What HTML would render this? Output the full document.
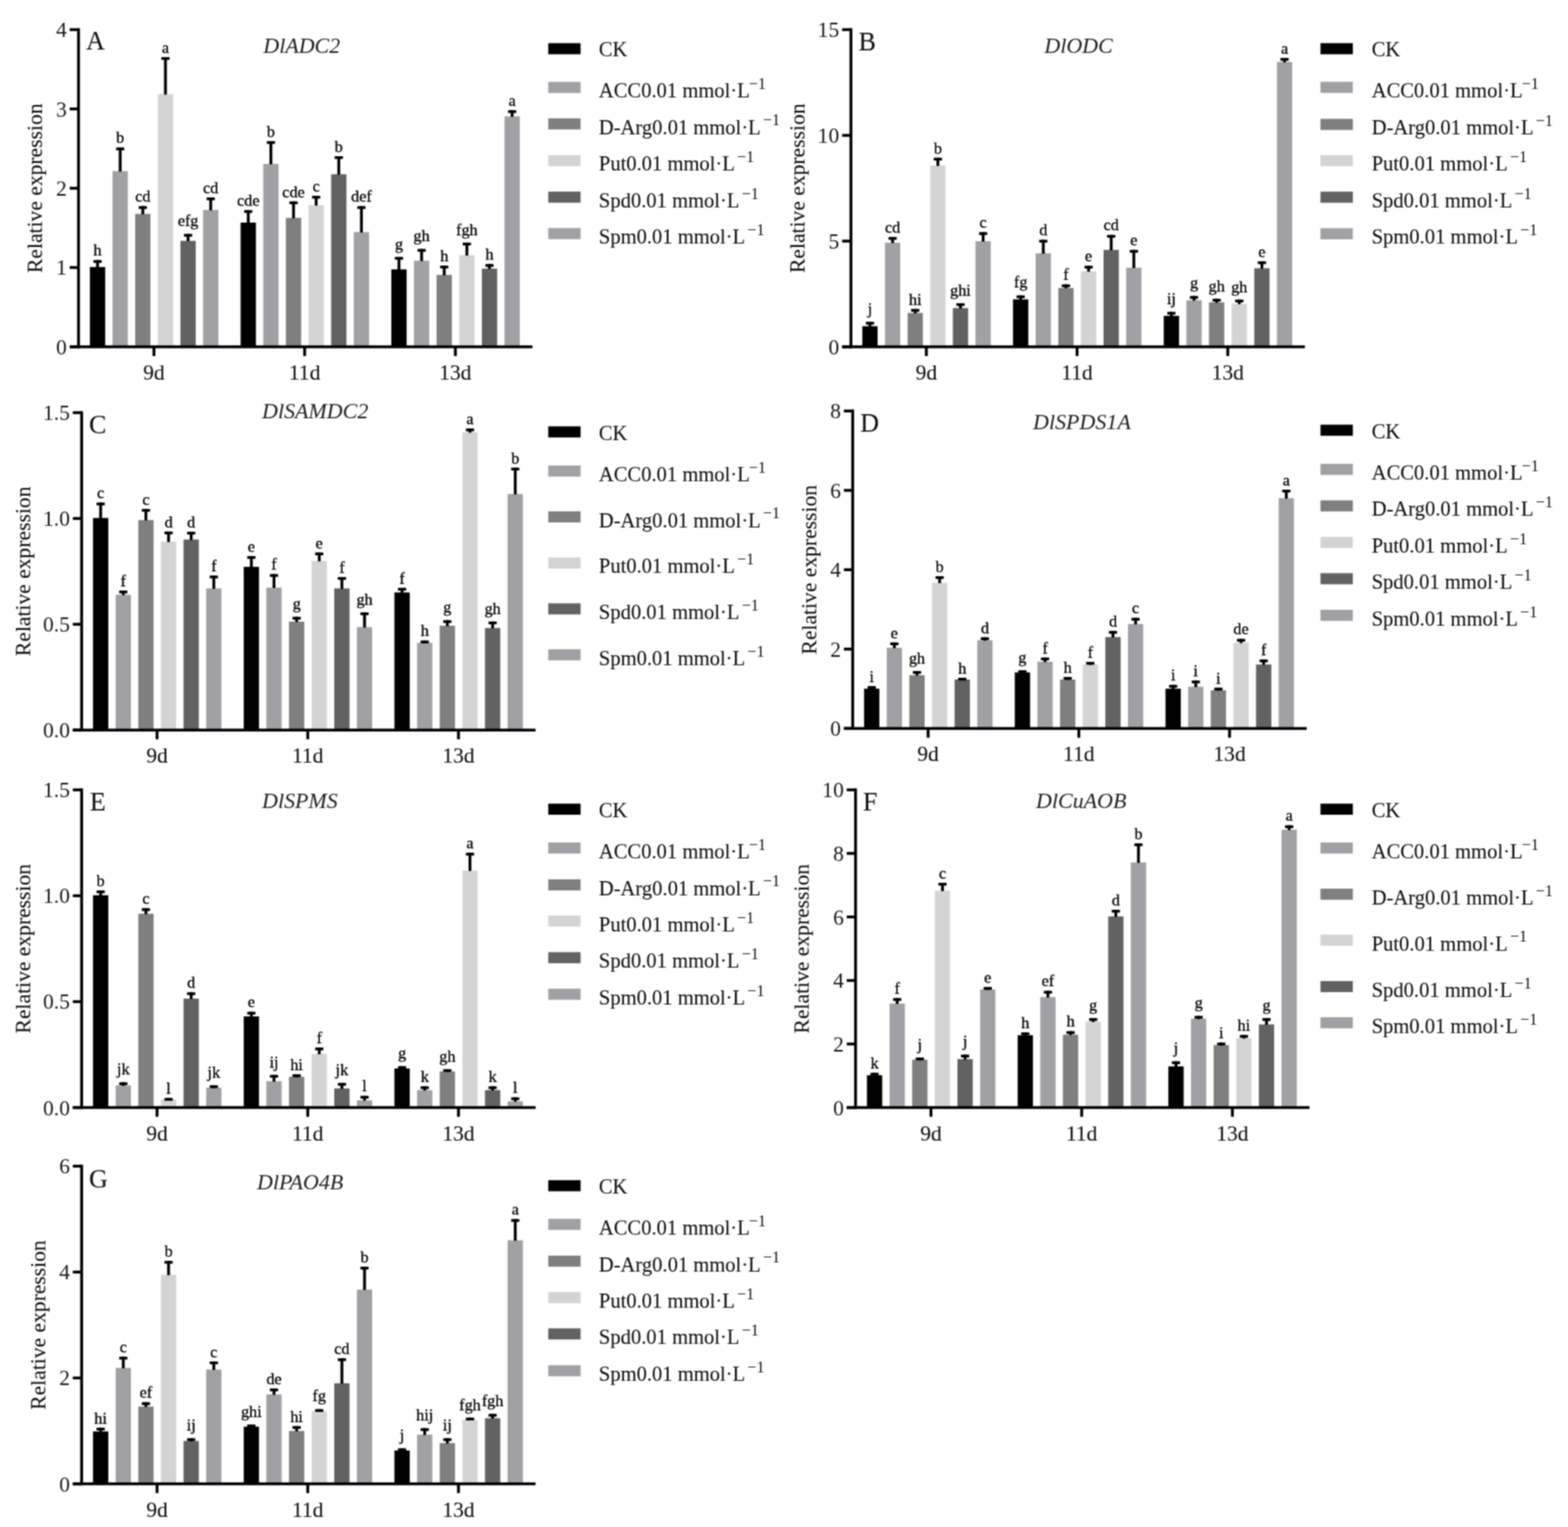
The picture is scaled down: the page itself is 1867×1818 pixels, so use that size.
<!DOCTYPE html>
<html><head><meta charset="utf-8"><title>Relative expression</title>
<style>
html,body{margin:0;padding:0;background:#fff;}
svg{display:block;}
text{font-family:"Liberation Serif", "Times New Roman", serif;fill:#111;stroke:#111;stroke-width:0.1px;}
.l{font-size:19.3px;text-anchor:middle;stroke-width:0.3px;fill:#000;stroke:#000;}
.yt{font-size:25.6px;text-anchor:end;stroke-width:0;fill:#1a1a1a;}
.xt{font-size:25.6px;text-anchor:middle;}
.yl{font-size:25.7px;text-anchor:middle;}
.lg{font-size:24.5px;}
.sp{font-size:19px;stroke-width:0;}
.ti{font-size:26.2px;font-style:italic;fill:#222;stroke-width:0;}
.pl{font-size:31px;}
</style></head>
<body>
<svg width="1867" height="1818" viewBox="0 0 1867 1818">
<defs><filter id="bl" x="0" y="0" width="1867" height="1818" filterUnits="userSpaceOnUse" color-interpolation-filters="sRGB"><feConvolveMatrix order="3" kernelMatrix="1 2 1 2 4 2 1 2 1" divisor="16" edgeMode="duplicate" preserveAlpha="true"/></filter></defs>
<rect width="1867" height="1818" fill="#fff"/>
<g filter="url(#bl)">
<rect width="1867" height="1818" fill="#fff"/>
<g><rect x="107.05" y="317.9" width="18.2" height="95" fill="#000000"/>
<rect x="114.45" y="309.65" width="3.4" height="8.75"/>
<rect x="111.25" y="309.65" width="9.8" height="3.3"/>
<text x="116.15" y="304.45" class="l">h</text>
<rect x="134" y="203.68" width="18.2" height="209.22" fill="#a1a0a5"/>
<rect x="141.4" y="175.6" width="3.4" height="28.58"/>
<rect x="138.2" y="175.6" width="9.8" height="3.3"/>
<text x="143.1" y="170.4" class="l">b</text>
<rect x="160.95" y="254.65" width="18.2" height="158.25" fill="#7f7f7f"/>
<rect x="168.35" y="245.46" width="3.4" height="9.7"/>
<rect x="165.15" y="245.46" width="9.8" height="3.3"/>
<text x="170.05" y="240.26" class="l">cd</text>
<rect x="187.9" y="112.11" width="18.2" height="300.79" fill="#d4d4d4"/>
<rect x="195.3" y="67.98" width="3.4" height="44.62"/>
<rect x="192.1" y="67.98" width="9.8" height="3.3"/>
<text x="197" y="62.78" class="l">a</text>
<rect x="214.85" y="286.75" width="18.2" height="126.15" fill="#626262"/>
<rect x="222.25" y="278.5" width="3.4" height="8.75"/>
<rect x="219.05" y="278.5" width="9.8" height="3.3"/>
<text x="223.95" y="269.3" class="l">efg</text>
<rect x="241.8" y="249.93" width="18.2" height="162.97" fill="#a1a0a5"/>
<rect x="249.2" y="235.07" width="3.4" height="15.36"/>
<rect x="246" y="235.07" width="9.8" height="3.3"/>
<text x="250.9" y="229.87" class="l">cd</text>
<rect x="286.5" y="265.04" width="18.2" height="147.86" fill="#000000"/>
<rect x="293.9" y="250.18" width="3.4" height="15.36"/>
<rect x="290.7" y="250.18" width="9.8" height="3.3"/>
<text x="295.6" y="244.98" class="l">cde</text>
<rect x="313.45" y="195.18" width="18.2" height="217.72" fill="#a1a0a5"/>
<rect x="320.85" y="168.05" width="3.4" height="27.63"/>
<rect x="317.65" y="168.05" width="9.8" height="3.3"/>
<text x="322.55" y="162.85" class="l">b</text>
<rect x="340.4" y="259.37" width="18.2" height="153.53" fill="#7f7f7f"/>
<rect x="347.8" y="239.79" width="3.4" height="20.08"/>
<rect x="344.6" y="239.79" width="9.8" height="3.3"/>
<text x="349.5" y="234.59" class="l">cde</text>
<rect x="367.35" y="244.27" width="18.2" height="168.63" fill="#d4d4d4"/>
<rect x="374.75" y="233.18" width="3.4" height="11.58"/>
<rect x="371.55" y="233.18" width="9.8" height="3.3"/>
<text x="376.45" y="227.98" class="l">c</text>
<rect x="394.3" y="207.45" width="18.2" height="205.45" fill="#626262"/>
<rect x="401.7" y="185.98" width="3.4" height="21.97"/>
<rect x="398.5" y="185.98" width="9.8" height="3.3"/>
<text x="403.4" y="180.78" class="l">b</text>
<rect x="421.25" y="276.36" width="18.2" height="136.54" fill="#a1a0a5"/>
<rect x="428.65" y="245.46" width="3.4" height="31.41"/>
<rect x="425.45" y="245.46" width="9.8" height="3.3"/>
<text x="430.35" y="240.26" class="l">def</text>
<rect x="465.95" y="320.73" width="18.2" height="92.17" fill="#000000"/>
<rect x="473.35" y="305.87" width="3.4" height="15.36"/>
<rect x="470.15" y="305.87" width="9.8" height="3.3"/>
<text x="475.05" y="296.67" class="l">g</text>
<rect x="492.9" y="310.35" width="18.2" height="102.55" fill="#a1a0a5"/>
<rect x="500.3" y="296.43" width="3.4" height="14.42"/>
<rect x="497.1" y="296.43" width="9.8" height="3.3"/>
<text x="502" y="287.23" class="l">gh</text>
<rect x="519.85" y="327.34" width="18.2" height="85.56" fill="#7f7f7f"/>
<rect x="527.25" y="316.26" width="3.4" height="11.58"/>
<rect x="524.05" y="316.26" width="9.8" height="3.3"/>
<text x="528.95" y="311.06" class="l">h</text>
<rect x="546.8" y="303.74" width="18.2" height="109.16" fill="#d4d4d4"/>
<rect x="554.2" y="288.88" width="3.4" height="15.36"/>
<rect x="551" y="288.88" width="9.8" height="3.3"/>
<text x="555.9" y="279.68" class="l">fgh</text>
<rect x="573.75" y="319.79" width="18.2" height="93.11" fill="#626262"/>
<rect x="581.15" y="314.37" width="3.4" height="5.92"/>
<rect x="577.95" y="314.37" width="9.8" height="3.3"/>
<text x="582.85" y="309.17" class="l">h</text>
<rect x="600.7" y="138.54" width="18.2" height="274.36" fill="#a1a0a5"/>
<rect x="608.1" y="131.23" width="3.4" height="7.81"/>
<rect x="604.9" y="131.23" width="9.8" height="3.3"/>
<text x="609.8" y="126.03" class="l">a</text>
<rect x="83" y="411.2" width="551" height="3.4"/>
<rect x="91.8" y="33.6" width="3.4" height="381"/>
<rect x="83" y="411.2" width="10.5" height="3.4"/>
<text x="79.5" y="421.8" class="yt">0</text>
<rect x="83" y="316.8" width="10.5" height="3.4"/>
<text x="79.5" y="327.4" class="yt">1</text>
<rect x="83" y="222.4" width="10.5" height="3.4"/>
<text x="79.5" y="233" class="yt">2</text>
<rect x="83" y="128" width="10.5" height="3.4"/>
<text x="79.5" y="138.6" class="yt">3</text>
<rect x="83" y="33.6" width="10.5" height="3.4"/>
<text x="79.5" y="44.2" class="yt">4</text>
<rect x="181.6" y="412.9" width="3.4" height="11"/>
<text x="183.3" y="451.9" class="xt">9d</text>
<rect x="361.05" y="412.9" width="3.4" height="11"/>
<text x="362.75" y="451.9" class="xt">11d</text>
<rect x="540.5" y="412.9" width="3.4" height="11"/>
<text x="542.2" y="451.9" class="xt">13d</text>
<text x="102.5" y="59.2" class="pl">A</text>
<text x="313.5" y="62.5" class="ti">DlADC2</text>
<text transform="translate(50 224.1) rotate(-90)" class="yl">Relative expression</text>
<rect x="652.8" y="51.4" width="38.5" height="13.2" fill="#000000"/>
<text x="713" y="67.3" class="lg">CK</text>
<rect x="652.8" y="97.5" width="38.5" height="13.2" fill="#a1a0a5"/>
<text x="713" y="116.2" class="lg">ACC0.01 mmol·L<tspan dx="-0.9" dy="-10.2" class="sp">−1</tspan></text>
<rect x="652.8" y="140.9" width="38.5" height="13.2" fill="#7f7f7f"/>
<text x="713" y="159.6" class="lg">D-Arg0.01 mmol·L<tspan dx="2.8" dy="-10.2" class="sp">−1</tspan></text>
<rect x="652.8" y="184.6" width="38.5" height="13.2" fill="#d4d4d4"/>
<text x="713" y="203.3" class="lg">Put0.01 mmol·L<tspan dx="2.8" dy="-10.2" class="sp">−1</tspan></text>
<rect x="652.8" y="228.1" width="38.5" height="13.2" fill="#626262"/>
<text x="713" y="246.8" class="lg">Spd0.01 mmol·L<tspan dx="2.8" dy="-10.2" class="sp">−1</tspan></text>
<rect x="652.8" y="271.5" width="38.5" height="13.2" fill="#a1a0a5"/>
<text x="713" y="290.2" class="lg">Spm0.01 mmol·L<tspan dx="2.8" dy="-10.2" class="sp">−1</tspan></text></g>
<g><rect x="1026.75" y="388.39" width="18.2" height="24.51" fill="#000000"/>
<rect x="1034.15" y="383.15" width="3.4" height="5.73"/>
<rect x="1030.95" y="383.15" width="9.8" height="3.3"/>
<text x="1035.85" y="373.95" class="l">j</text>
<rect x="1053.7" y="288.95" width="18.2" height="123.95" fill="#a1a0a5"/>
<rect x="1061.1" y="282.21" width="3.4" height="7.24"/>
<rect x="1057.9" y="282.21" width="9.8" height="3.3"/>
<text x="1062.8" y="277.01" class="l">cd</text>
<rect x="1080.65" y="372.53" width="18.2" height="40.37" fill="#7f7f7f"/>
<rect x="1088.05" y="367.8" width="3.4" height="5.23"/>
<rect x="1084.85" y="367.8" width="9.8" height="3.3"/>
<text x="1089.75" y="362.6" class="l">hi</text>
<rect x="1107.6" y="197.07" width="18.2" height="215.83" fill="#d4d4d4"/>
<rect x="1115" y="187.81" width="3.4" height="9.76"/>
<rect x="1111.8" y="187.81" width="9.8" height="3.3"/>
<text x="1116.7" y="182.61" class="l">b</text>
<rect x="1134.55" y="366.74" width="18.2" height="46.16" fill="#626262"/>
<rect x="1141.95" y="361" width="3.4" height="6.23"/>
<rect x="1138.75" y="361" width="9.8" height="3.3"/>
<text x="1143.65" y="351.8" class="l">ghi</text>
<rect x="1161.5" y="287.19" width="18.2" height="125.71" fill="#a1a0a5"/>
<rect x="1168.9" y="276.42" width="3.4" height="11.27"/>
<rect x="1165.7" y="276.42" width="9.8" height="3.3"/>
<text x="1170.6" y="271.22" class="l">c</text>
<rect x="1206.2" y="356.42" width="18.2" height="56.48" fill="#000000"/>
<rect x="1213.6" y="351.69" width="3.4" height="5.23"/>
<rect x="1210.4" y="351.69" width="9.8" height="3.3"/>
<text x="1215.3" y="342.49" class="l">fg</text>
<rect x="1233.15" y="301.54" width="18.2" height="111.36" fill="#a1a0a5"/>
<rect x="1240.55" y="285.48" width="3.4" height="16.56"/>
<rect x="1237.35" y="285.48" width="9.8" height="3.3"/>
<text x="1242.25" y="280.28" class="l">d</text>
<rect x="1260.1" y="342.82" width="18.2" height="70.08" fill="#7f7f7f"/>
<rect x="1267.5" y="338.6" width="3.4" height="4.72"/>
<rect x="1264.3" y="338.6" width="9.8" height="3.3"/>
<text x="1269.2" y="333.4" class="l">f</text>
<rect x="1287.05" y="322.93" width="18.2" height="89.97" fill="#d4d4d4"/>
<rect x="1294.45" y="316.44" width="3.4" height="6.99"/>
<rect x="1291.25" y="316.44" width="9.8" height="3.3"/>
<text x="1296.15" y="311.24" class="l">e</text>
<rect x="1314" y="297.51" width="18.2" height="115.39" fill="#626262"/>
<rect x="1321.4" y="279.69" width="3.4" height="18.32"/>
<rect x="1318.2" y="279.69" width="9.8" height="3.3"/>
<text x="1323.1" y="274.49" class="l">cd</text>
<rect x="1340.95" y="318.66" width="18.2" height="94.24" fill="#a1a0a5"/>
<rect x="1348.35" y="297.56" width="3.4" height="21.59"/>
<rect x="1345.15" y="297.56" width="9.8" height="3.3"/>
<text x="1350.05" y="292.36" class="l">e</text>
<rect x="1385.65" y="376.05" width="18.2" height="36.85" fill="#000000"/>
<rect x="1393.05" y="371.32" width="3.4" height="5.23"/>
<rect x="1389.85" y="371.32" width="9.8" height="3.3"/>
<text x="1394.75" y="362.12" class="l">ij</text>
<rect x="1412.6" y="357.42" width="18.2" height="55.48" fill="#a1a0a5"/>
<rect x="1420" y="352.44" width="3.4" height="5.48"/>
<rect x="1416.8" y="352.44" width="9.8" height="3.3"/>
<text x="1421.7" y="343.24" class="l">g</text>
<rect x="1439.55" y="359.94" width="18.2" height="52.96" fill="#7f7f7f"/>
<rect x="1446.95" y="355.72" width="3.4" height="4.72"/>
<rect x="1443.75" y="355.72" width="9.8" height="3.3"/>
<text x="1448.65" y="346.52" class="l">gh</text>
<rect x="1466.5" y="361.7" width="18.2" height="51.2" fill="#d4d4d4"/>
<rect x="1473.9" y="356.72" width="3.4" height="5.48"/>
<rect x="1470.7" y="356.72" width="9.8" height="3.3"/>
<text x="1475.6" y="347.52" class="l">gh</text>
<rect x="1493.45" y="319.41" width="18.2" height="93.49" fill="#626262"/>
<rect x="1500.85" y="311.16" width="3.4" height="8.75"/>
<rect x="1497.65" y="311.16" width="9.8" height="3.3"/>
<text x="1502.55" y="305.96" class="l">e</text>
<rect x="1520.4" y="73.72" width="18.2" height="339.18" fill="#a1a0a5"/>
<rect x="1527.8" y="68.99" width="3.4" height="5.23"/>
<rect x="1524.6" y="68.99" width="9.8" height="3.3"/>
<text x="1529.5" y="63.79" class="l">a</text>
<rect x="1002.7" y="411.2" width="551" height="3.4"/>
<rect x="1011.5" y="33.6" width="3.4" height="381"/>
<rect x="1002.7" y="411.2" width="10.5" height="3.4"/>
<text x="999.2" y="421.8" class="yt">0</text>
<rect x="1002.7" y="285.33" width="10.5" height="3.4"/>
<text x="999.2" y="295.93" class="yt">5</text>
<rect x="1002.7" y="159.47" width="10.5" height="3.4"/>
<text x="999.2" y="170.07" class="yt">10</text>
<rect x="1002.7" y="33.6" width="10.5" height="3.4"/>
<text x="999.2" y="44.2" class="yt">15</text>
<rect x="1101.3" y="412.9" width="3.4" height="11"/>
<text x="1103" y="451.9" class="xt">9d</text>
<rect x="1280.75" y="412.9" width="3.4" height="11"/>
<text x="1282.45" y="451.9" class="xt">11d</text>
<rect x="1460.2" y="412.9" width="3.4" height="11"/>
<text x="1461.9" y="451.9" class="xt">13d</text>
<text x="1022.3" y="59.6" class="pl">B</text>
<text x="1243.5" y="62.5" class="ti">DlODC</text>
<text transform="translate(957.5 224.1) rotate(-90)" class="yl">Relative expression</text>
<rect x="1572.3" y="51.4" width="38.5" height="13.2" fill="#000000"/>
<text x="1633.2" y="67.3" class="lg">CK</text>
<rect x="1572.3" y="97.4" width="38.5" height="13.2" fill="#a1a0a5"/>
<text x="1633.2" y="116.1" class="lg">ACC0.01 mmol·L<tspan dx="-0.9" dy="-10.2" class="sp">−1</tspan></text>
<rect x="1572.3" y="141.5" width="38.5" height="13.2" fill="#7f7f7f"/>
<text x="1633.2" y="160.2" class="lg">D-Arg0.01 mmol·L<tspan dx="2.8" dy="-10.2" class="sp">−1</tspan></text>
<rect x="1572.3" y="184.6" width="38.5" height="13.2" fill="#d4d4d4"/>
<text x="1633.2" y="203.3" class="lg">Put0.01 mmol·L<tspan dx="2.8" dy="-10.2" class="sp">−1</tspan></text>
<rect x="1572.3" y="228.2" width="38.5" height="13.2" fill="#626262"/>
<text x="1633.2" y="246.9" class="lg">Spd0.01 mmol·L<tspan dx="2.8" dy="-10.2" class="sp">−1</tspan></text>
<rect x="1572.3" y="271.7" width="38.5" height="13.2" fill="#a1a0a5"/>
<text x="1633.2" y="290.4" class="lg">Spm0.01 mmol·L<tspan dx="2.8" dy="-10.2" class="sp">−1</tspan></text></g>
<g><rect x="110.75" y="616.67" width="18.2" height="252.53" fill="#000000"/>
<rect x="118.15" y="598.33" width="3.4" height="18.84"/>
<rect x="114.95" y="598.33" width="9.8" height="3.3"/>
<text x="119.85" y="593.13" class="l">c</text>
<rect x="137.7" y="708.12" width="18.2" height="161.08" fill="#a1a0a5"/>
<rect x="145.1" y="703.14" width="3.4" height="5.48"/>
<rect x="141.9" y="703.14" width="9.8" height="3.3"/>
<text x="146.8" y="697.94" class="l">f</text>
<rect x="164.65" y="619.19" width="18.2" height="250.01" fill="#7f7f7f"/>
<rect x="172.05" y="605.89" width="3.4" height="13.8"/>
<rect x="168.85" y="605.89" width="9.8" height="3.3"/>
<text x="173.75" y="600.69" class="l">c</text>
<rect x="191.6" y="644.88" width="18.2" height="224.32" fill="#d4d4d4"/>
<rect x="199" y="632.85" width="3.4" height="12.54"/>
<rect x="195.8" y="632.85" width="9.8" height="3.3"/>
<text x="200.7" y="627.65" class="l">d</text>
<rect x="218.55" y="642.36" width="18.2" height="226.84" fill="#626262"/>
<rect x="225.95" y="633.1" width="3.4" height="9.77"/>
<rect x="222.75" y="633.1" width="9.8" height="3.3"/>
<text x="227.65" y="627.9" class="l">d</text>
<rect x="245.5" y="700.56" width="18.2" height="168.64" fill="#a1a0a5"/>
<rect x="252.9" y="685.25" width="3.4" height="15.81"/>
<rect x="249.7" y="685.25" width="9.8" height="3.3"/>
<text x="254.6" y="680.05" class="l">f</text>
<rect x="290.2" y="674.86" width="18.2" height="194.34" fill="#000000"/>
<rect x="297.6" y="662.07" width="3.4" height="13.29"/>
<rect x="294.4" y="662.07" width="9.8" height="3.3"/>
<text x="299.3" y="656.87" class="l">e</text>
<rect x="317.15" y="699.55" width="18.2" height="169.65" fill="#a1a0a5"/>
<rect x="324.55" y="683.48" width="3.4" height="16.57"/>
<rect x="321.35" y="683.48" width="9.8" height="3.3"/>
<text x="326.25" y="678.28" class="l">f</text>
<rect x="344.1" y="740.11" width="18.2" height="129.09" fill="#7f7f7f"/>
<rect x="351.5" y="734.38" width="3.4" height="6.24"/>
<rect x="348.3" y="734.38" width="9.8" height="3.3"/>
<text x="353.2" y="725.18" class="l">g</text>
<rect x="371.05" y="667.81" width="18.2" height="201.39" fill="#d4d4d4"/>
<rect x="378.45" y="657.79" width="3.4" height="10.52"/>
<rect x="375.25" y="657.79" width="9.8" height="3.3"/>
<text x="380.15" y="652.59" class="l">e</text>
<rect x="398" y="700.56" width="18.2" height="168.64" fill="#626262"/>
<rect x="405.4" y="687.01" width="3.4" height="14.05"/>
<rect x="402.2" y="687.01" width="9.8" height="3.3"/>
<text x="407.1" y="681.81" class="l">f</text>
<rect x="424.95" y="746.66" width="18.2" height="122.54" fill="#a1a0a5"/>
<rect x="432.35" y="729.08" width="3.4" height="18.08"/>
<rect x="429.15" y="729.08" width="9.8" height="3.3"/>
<text x="434.05" y="719.88" class="l">gh</text>
<rect x="469.65" y="705.35" width="18.2" height="163.85" fill="#000000"/>
<rect x="477.05" y="699.86" width="3.4" height="5.99"/>
<rect x="473.85" y="699.86" width="9.8" height="3.3"/>
<text x="478.75" y="694.66" class="l">f</text>
<rect x="496.6" y="765.31" width="18.2" height="103.89" fill="#a1a0a5"/>
<rect x="504" y="762.59" width="3.4" height="3.22"/>
<rect x="500.8" y="762.59" width="9.8" height="3.3"/>
<text x="505.7" y="757.39" class="l">h</text>
<rect x="523.55" y="744.9" width="18.2" height="124.3" fill="#7f7f7f"/>
<rect x="530.95" y="738.41" width="3.4" height="6.99"/>
<rect x="527.75" y="738.41" width="9.8" height="3.3"/>
<text x="532.65" y="729.21" class="l">g</text>
<rect x="550.5" y="514.63" width="18.2" height="354.57" fill="#d4d4d4"/>
<rect x="557.9" y="510.15" width="3.4" height="4.98"/>
<rect x="554.7" y="510.15" width="9.8" height="3.3"/>
<text x="559.6" y="504.95" class="l">a</text>
<rect x="577.45" y="747.67" width="18.2" height="121.53" fill="#626262"/>
<rect x="584.85" y="739.92" width="3.4" height="8.25"/>
<rect x="581.65" y="739.92" width="9.8" height="3.3"/>
<text x="586.55" y="730.72" class="l">gh</text>
<rect x="604.4" y="588.2" width="18.2" height="281" fill="#a1a0a5"/>
<rect x="611.8" y="556.76" width="3.4" height="31.94"/>
<rect x="608.6" y="556.76" width="9.8" height="3.3"/>
<text x="613.5" y="551.56" class="l">b</text>
<rect x="86.7" y="867.5" width="551" height="3.4"/>
<rect x="95.5" y="489.6" width="3.4" height="381.3"/>
<rect x="86.7" y="867.5" width="10.5" height="3.4"/>
<text x="83.2" y="878.1" class="yt">0.0</text>
<rect x="86.7" y="741.53" width="10.5" height="3.4"/>
<text x="83.2" y="752.13" class="yt">0.5</text>
<rect x="86.7" y="615.57" width="10.5" height="3.4"/>
<text x="83.2" y="626.17" class="yt">1.0</text>
<rect x="86.7" y="489.6" width="10.5" height="3.4"/>
<text x="83.2" y="500.2" class="yt">1.5</text>
<rect x="185.3" y="869.2" width="3.4" height="11"/>
<text x="187" y="908.2" class="xt">9d</text>
<rect x="364.75" y="869.2" width="3.4" height="11"/>
<text x="366.45" y="908.2" class="xt">11d</text>
<rect x="544.2" y="869.2" width="3.4" height="11"/>
<text x="545.9" y="908.2" class="xt">13d</text>
<text x="106" y="515.5" class="pl">C</text>
<text x="312" y="497.5" class="ti">DlSAMDC2</text>
<text transform="translate(35.5 680.2) rotate(-90)" class="yl">Relative expression</text>
<rect x="652.8" y="507.6" width="38.5" height="13.2" fill="#000000"/>
<text x="713" y="523.5" class="lg">CK</text>
<rect x="652.8" y="554.2" width="38.5" height="13.2" fill="#a1a0a5"/>
<text x="713" y="572.9" class="lg">ACC0.01 mmol·L<tspan dx="-0.9" dy="-10.2" class="sp">−1</tspan></text>
<rect x="652.8" y="608.8" width="38.5" height="13.2" fill="#7f7f7f"/>
<text x="713" y="627.5" class="lg">D-Arg0.01 mmol·L<tspan dx="2.8" dy="-10.2" class="sp">−1</tspan></text>
<rect x="652.8" y="663.7" width="38.5" height="13.2" fill="#d4d4d4"/>
<text x="713" y="682.4" class="lg">Put0.01 mmol·L<tspan dx="2.8" dy="-10.2" class="sp">−1</tspan></text>
<rect x="652.8" y="718.3" width="38.5" height="13.2" fill="#626262"/>
<text x="713" y="737" class="lg">Spd0.01 mmol·L<tspan dx="2.8" dy="-10.2" class="sp">−1</tspan></text>
<rect x="652.8" y="773" width="38.5" height="13.2" fill="#a1a0a5"/>
<text x="713" y="791.7" class="lg">Spm0.01 mmol·L<tspan dx="2.8" dy="-10.2" class="sp">−1</tspan></text></g>
<g><rect x="1028.85" y="819.92" width="18.2" height="47.38" fill="#000000"/>
<rect x="1036.25" y="816.86" width="3.4" height="3.56"/>
<rect x="1033.05" y="816.86" width="9.8" height="3.3"/>
<text x="1037.95" y="811.66" class="l">i</text>
<rect x="1055.8" y="771.25" width="18.2" height="96.04" fill="#a1a0a5"/>
<rect x="1063.2" y="764.88" width="3.4" height="6.87"/>
<rect x="1060" y="764.88" width="9.8" height="3.3"/>
<text x="1064.9" y="759.68" class="l">e</text>
<rect x="1082.75" y="803.86" width="18.2" height="63.44" fill="#7f7f7f"/>
<rect x="1090.15" y="798.9" width="3.4" height="5.45"/>
<rect x="1086.95" y="798.9" width="9.8" height="3.3"/>
<text x="1091.85" y="789.7" class="l">gh</text>
<rect x="1109.7" y="693.76" width="18.2" height="173.53" fill="#d4d4d4"/>
<rect x="1117.1" y="685.98" width="3.4" height="8.29"/>
<rect x="1113.9" y="685.98" width="9.8" height="3.3"/>
<text x="1118.8" y="680.78" class="l">b</text>
<rect x="1136.65" y="809.05" width="18.2" height="58.25" fill="#626262"/>
<rect x="1144.05" y="806.94" width="3.4" height="2.62"/>
<rect x="1140.85" y="806.94" width="9.8" height="3.3"/>
<text x="1145.75" y="801.74" class="l">h</text>
<rect x="1163.6" y="762.28" width="18.2" height="105.02" fill="#a1a0a5"/>
<rect x="1171" y="758.74" width="3.4" height="4.03"/>
<rect x="1167.8" y="758.74" width="9.8" height="3.3"/>
<text x="1172.7" y="753.54" class="l">d</text>
<rect x="1208.3" y="800.55" width="18.2" height="66.75" fill="#000000"/>
<rect x="1215.7" y="797.96" width="3.4" height="3.09"/>
<rect x="1212.5" y="797.96" width="9.8" height="3.3"/>
<text x="1217.4" y="788.76" class="l">g</text>
<rect x="1235.25" y="787.79" width="18.2" height="79.51" fill="#a1a0a5"/>
<rect x="1242.65" y="782.84" width="3.4" height="5.45"/>
<rect x="1239.45" y="782.84" width="9.8" height="3.3"/>
<text x="1244.35" y="777.64" class="l">f</text>
<rect x="1262.2" y="809.05" width="18.2" height="58.25" fill="#7f7f7f"/>
<rect x="1269.6" y="805.99" width="3.4" height="3.56"/>
<rect x="1266.4" y="805.99" width="9.8" height="3.3"/>
<text x="1271.3" y="800.79" class="l">h</text>
<rect x="1289.15" y="791.1" width="18.2" height="76.2" fill="#d4d4d4"/>
<rect x="1296.55" y="788.04" width="3.4" height="3.56"/>
<rect x="1293.35" y="788.04" width="9.8" height="3.3"/>
<text x="1298.25" y="782.84" class="l">f</text>
<rect x="1316.1" y="758.5" width="18.2" height="108.8" fill="#626262"/>
<rect x="1323.5" y="751.18" width="3.4" height="7.81"/>
<rect x="1320.3" y="751.18" width="9.8" height="3.3"/>
<text x="1325.2" y="745.98" class="l">d</text>
<rect x="1343.05" y="742.9" width="18.2" height="124.39" fill="#a1a0a5"/>
<rect x="1350.45" y="735.59" width="3.4" height="7.81"/>
<rect x="1347.25" y="735.59" width="9.8" height="3.3"/>
<text x="1352.15" y="730.39" class="l">c</text>
<rect x="1387.75" y="819.92" width="18.2" height="47.38" fill="#000000"/>
<rect x="1395.15" y="815.44" width="3.4" height="4.98"/>
<rect x="1391.95" y="815.44" width="9.8" height="3.3"/>
<text x="1396.85" y="810.24" class="l">i</text>
<rect x="1414.7" y="817.56" width="18.2" height="49.74" fill="#a1a0a5"/>
<rect x="1422.1" y="810.25" width="3.4" height="7.81"/>
<rect x="1418.9" y="810.25" width="9.8" height="3.3"/>
<text x="1423.8" y="805.04" class="l">i</text>
<rect x="1441.65" y="821.81" width="18.2" height="45.49" fill="#7f7f7f"/>
<rect x="1449.05" y="818.75" width="3.4" height="3.56"/>
<rect x="1445.85" y="818.75" width="9.8" height="3.3"/>
<text x="1450.75" y="813.55" class="l">i</text>
<rect x="1468.6" y="765.11" width="18.2" height="102.19" fill="#d4d4d4"/>
<rect x="1476" y="760.63" width="3.4" height="4.98"/>
<rect x="1472.8" y="760.63" width="9.8" height="3.3"/>
<text x="1477.7" y="755.43" class="l">de</text>
<rect x="1495.55" y="791.1" width="18.2" height="76.2" fill="#626262"/>
<rect x="1502.95" y="785.2" width="3.4" height="6.4"/>
<rect x="1499.75" y="785.2" width="9.8" height="3.3"/>
<text x="1504.65" y="780" class="l">f</text>
<rect x="1522.5" y="593.12" width="18.2" height="274.18" fill="#a1a0a5"/>
<rect x="1529.9" y="582.97" width="3.4" height="10.65"/>
<rect x="1526.7" y="582.97" width="9.8" height="3.3"/>
<text x="1531.6" y="577.77" class="l">a</text>
<rect x="1004.8" y="865.6" width="551" height="3.4"/>
<rect x="1013.6" y="487.6" width="3.4" height="381.4"/>
<rect x="1004.8" y="865.6" width="10.5" height="3.4"/>
<text x="1001.3" y="876.2" class="yt">0</text>
<rect x="1004.8" y="771.1" width="10.5" height="3.4"/>
<text x="1001.3" y="781.7" class="yt">2</text>
<rect x="1004.8" y="676.6" width="10.5" height="3.4"/>
<text x="1001.3" y="687.2" class="yt">4</text>
<rect x="1004.8" y="582.1" width="10.5" height="3.4"/>
<text x="1001.3" y="592.7" class="yt">6</text>
<rect x="1004.8" y="487.6" width="10.5" height="3.4"/>
<text x="1001.3" y="498.2" class="yt">8</text>
<rect x="1103.4" y="867.3" width="3.4" height="11"/>
<text x="1105.1" y="906.3" class="xt">9d</text>
<rect x="1282.85" y="867.3" width="3.4" height="11"/>
<text x="1284.55" y="906.3" class="xt">11d</text>
<rect x="1462.3" y="867.3" width="3.4" height="11"/>
<text x="1464" y="906.3" class="xt">13d</text>
<text x="1024.3" y="514" class="pl">D</text>
<text x="1230" y="511.2" class="ti">DlSPDS1A</text>
<text transform="translate(971.5 678.3) rotate(-90)" class="yl">Relative expression</text>
<rect x="1572.3" y="505.6" width="38.5" height="13.2" fill="#000000"/>
<text x="1633.2" y="521.5" class="lg">CK</text>
<rect x="1572.3" y="552.2" width="38.5" height="13.2" fill="#a1a0a5"/>
<text x="1633.2" y="570.9" class="lg">ACC0.01 mmol·L<tspan dx="-0.9" dy="-10.2" class="sp">−1</tspan></text>
<rect x="1572.3" y="595.7" width="38.5" height="13.2" fill="#7f7f7f"/>
<text x="1633.2" y="614.4" class="lg">D-Arg0.01 mmol·L<tspan dx="2.8" dy="-10.2" class="sp">−1</tspan></text>
<rect x="1572.3" y="639.3" width="38.5" height="13.2" fill="#d4d4d4"/>
<text x="1633.2" y="658" class="lg">Put0.01 mmol·L<tspan dx="2.8" dy="-10.2" class="sp">−1</tspan></text>
<rect x="1572.3" y="682.4" width="38.5" height="13.2" fill="#626262"/>
<text x="1633.2" y="701.1" class="lg">Spd0.01 mmol·L<tspan dx="2.8" dy="-10.2" class="sp">−1</tspan></text>
<rect x="1572.3" y="726" width="38.5" height="13.2" fill="#a1a0a5"/>
<text x="1633.2" y="744.7" class="lg">Spm0.01 mmol·L<tspan dx="2.8" dy="-10.2" class="sp">−1</tspan></text></g>
<g><rect x="110.75" y="1065.87" width="18.2" height="252.73" fill="#000000"/>
<rect x="118.15" y="1060.12" width="3.4" height="6.24"/>
<rect x="114.95" y="1060.12" width="9.8" height="3.3"/>
<text x="119.85" y="1054.92" class="l">b</text>
<rect x="137.7" y="1292.28" width="18.2" height="26.32" fill="#a1a0a5"/>
<rect x="145.1" y="1288.56" width="3.4" height="4.23"/>
<rect x="141.9" y="1288.56" width="9.8" height="3.3"/>
<text x="146.8" y="1279.36" class="l">jk</text>
<rect x="164.65" y="1087.8" width="18.2" height="230.8" fill="#7f7f7f"/>
<rect x="172.05" y="1081.3" width="3.4" height="7"/>
<rect x="168.85" y="1081.3" width="9.8" height="3.3"/>
<text x="173.75" y="1076.1" class="l">c</text>
<rect x="191.6" y="1308.92" width="18.2" height="9.68" fill="#d4d4d4"/>
<rect x="199" y="1307.21" width="3.4" height="2.21"/>
<rect x="195.8" y="1307.21" width="9.8" height="3.3"/>
<text x="200.7" y="1302.01" class="l">l</text>
<rect x="218.55" y="1188.91" width="18.2" height="129.69" fill="#626262"/>
<rect x="225.95" y="1181.4" width="3.4" height="8.01"/>
<rect x="222.75" y="1181.4" width="9.8" height="3.3"/>
<text x="227.65" y="1176.2" class="l">d</text>
<rect x="245.5" y="1295.06" width="18.2" height="23.54" fill="#a1a0a5"/>
<rect x="252.9" y="1292.09" width="3.4" height="3.47"/>
<rect x="249.7" y="1292.09" width="9.8" height="3.3"/>
<text x="254.6" y="1282.89" class="l">jk</text>
<rect x="290.2" y="1210.09" width="18.2" height="108.51" fill="#000000"/>
<rect x="297.6" y="1204.6" width="3.4" height="5.99"/>
<rect x="294.4" y="1204.6" width="9.8" height="3.3"/>
<text x="299.3" y="1199.4" class="l">e</text>
<rect x="317.15" y="1287.24" width="18.2" height="31.36" fill="#a1a0a5"/>
<rect x="324.55" y="1279.73" width="3.4" height="8.01"/>
<rect x="321.35" y="1279.73" width="9.8" height="3.3"/>
<text x="326.25" y="1270.53" class="l">ij</text>
<rect x="344.1" y="1281.94" width="18.2" height="36.66" fill="#7f7f7f"/>
<rect x="351.5" y="1278.98" width="3.4" height="3.47"/>
<rect x="348.3" y="1278.98" width="9.8" height="3.3"/>
<text x="353.2" y="1273.78" class="l">hi</text>
<rect x="371.05" y="1254.71" width="18.2" height="63.89" fill="#d4d4d4"/>
<rect x="378.45" y="1247.21" width="3.4" height="8.01"/>
<rect x="375.25" y="1247.21" width="9.8" height="3.3"/>
<text x="380.15" y="1242.01" class="l">f</text>
<rect x="398" y="1295.81" width="18.2" height="22.79" fill="#626262"/>
<rect x="405.4" y="1289.31" width="3.4" height="7"/>
<rect x="402.2" y="1289.31" width="9.8" height="3.3"/>
<text x="407.1" y="1280.11" class="l">jk</text>
<rect x="424.95" y="1309.93" width="18.2" height="8.67" fill="#a1a0a5"/>
<rect x="432.35" y="1304.69" width="3.4" height="5.74"/>
<rect x="429.15" y="1304.69" width="9.8" height="3.3"/>
<text x="434.05" y="1299.49" class="l">l</text>
<rect x="469.65" y="1272.11" width="18.2" height="46.49" fill="#000000"/>
<rect x="477.05" y="1269.39" width="3.4" height="3.22"/>
<rect x="473.85" y="1269.39" width="9.8" height="3.3"/>
<text x="478.75" y="1260.19" class="l">g</text>
<rect x="496.6" y="1297.83" width="18.2" height="20.77" fill="#a1a0a5"/>
<rect x="504" y="1293.35" width="3.4" height="4.98"/>
<rect x="500.8" y="1293.35" width="9.8" height="3.3"/>
<text x="505.7" y="1288.15" class="l">k</text>
<rect x="523.55" y="1275.64" width="18.2" height="42.96" fill="#7f7f7f"/>
<rect x="530.95" y="1272.92" width="3.4" height="3.22"/>
<rect x="527.75" y="1272.92" width="9.8" height="3.3"/>
<text x="532.65" y="1263.72" class="l">gh</text>
<rect x="550.5" y="1036.37" width="18.2" height="282.23" fill="#d4d4d4"/>
<rect x="557.9" y="1015.24" width="3.4" height="21.62"/>
<rect x="554.7" y="1015.24" width="9.8" height="3.3"/>
<text x="559.6" y="1010.04" class="l">a</text>
<rect x="577.45" y="1297.83" width="18.2" height="20.77" fill="#626262"/>
<rect x="584.85" y="1293.35" width="3.4" height="4.98"/>
<rect x="581.65" y="1293.35" width="9.8" height="3.3"/>
<text x="586.55" y="1288.15" class="l">k</text>
<rect x="604.4" y="1311.19" width="18.2" height="7.41" fill="#a1a0a5"/>
<rect x="611.8" y="1306.46" width="3.4" height="5.23"/>
<rect x="608.6" y="1306.46" width="9.8" height="3.3"/>
<text x="613.5" y="1301.26" class="l">l</text>
<rect x="86.7" y="1316.9" width="551" height="3.4"/>
<rect x="95.5" y="938.7" width="3.4" height="381.6"/>
<rect x="86.7" y="1316.9" width="10.5" height="3.4"/>
<text x="83.2" y="1327.5" class="yt">0.0</text>
<rect x="86.7" y="1190.83" width="10.5" height="3.4"/>
<text x="83.2" y="1201.43" class="yt">0.5</text>
<rect x="86.7" y="1064.77" width="10.5" height="3.4"/>
<text x="83.2" y="1075.37" class="yt">1.0</text>
<rect x="86.7" y="938.7" width="10.5" height="3.4"/>
<text x="83.2" y="949.3" class="yt">1.5</text>
<rect x="185.3" y="1318.6" width="3.4" height="11"/>
<text x="187" y="1357.6" class="xt">9d</text>
<rect x="364.75" y="1318.6" width="3.4" height="11"/>
<text x="366.45" y="1357.6" class="xt">11d</text>
<rect x="544.2" y="1318.6" width="3.4" height="11"/>
<text x="545.9" y="1357.6" class="xt">13d</text>
<text x="107" y="965" class="pl">E</text>
<text x="312" y="962.2" class="ti">DlSPMS</text>
<text transform="translate(35.5 1129.5) rotate(-90)" class="yl">Relative expression</text>
<rect x="652.8" y="956.8" width="38.5" height="13.2" fill="#000000"/>
<text x="713" y="972.7" class="lg">CK</text>
<rect x="652.8" y="1003" width="38.5" height="13.2" fill="#a1a0a5"/>
<text x="713" y="1021.7" class="lg">ACC0.01 mmol·L<tspan dx="-0.9" dy="-10.2" class="sp">−1</tspan></text>
<rect x="652.8" y="1046.9" width="38.5" height="13.2" fill="#7f7f7f"/>
<text x="713" y="1065.6" class="lg">D-Arg0.01 mmol·L<tspan dx="2.8" dy="-10.2" class="sp">−1</tspan></text>
<rect x="652.8" y="1090" width="38.5" height="13.2" fill="#d4d4d4"/>
<text x="713" y="1108.7" class="lg">Put0.01 mmol·L<tspan dx="2.8" dy="-10.2" class="sp">−1</tspan></text>
<rect x="652.8" y="1133.6" width="38.5" height="13.2" fill="#626262"/>
<text x="713" y="1152.3" class="lg">Spd0.01 mmol·L<tspan dx="2.8" dy="-10.2" class="sp">−1</tspan></text>
<rect x="652.8" y="1177.1" width="38.5" height="13.2" fill="#a1a0a5"/>
<text x="713" y="1195.8" class="lg">Spm0.01 mmol·L<tspan dx="2.8" dy="-10.2" class="sp">−1</tspan></text></g>
<g><rect x="1032.25" y="1280.18" width="18.2" height="38.42" fill="#000000"/>
<rect x="1039.65" y="1277.21" width="3.4" height="3.47"/>
<rect x="1036.45" y="1277.21" width="9.8" height="3.3"/>
<text x="1041.35" y="1272.01" class="l">k</text>
<rect x="1059.2" y="1194.71" width="18.2" height="123.89" fill="#a1a0a5"/>
<rect x="1066.6" y="1188.33" width="3.4" height="6.87"/>
<rect x="1063.4" y="1188.33" width="9.8" height="3.3"/>
<text x="1068.3" y="1183.13" class="l">f</text>
<rect x="1086.15" y="1261.65" width="18.2" height="56.95" fill="#7f7f7f"/>
<rect x="1093.55" y="1259.06" width="3.4" height="3.09"/>
<rect x="1090.35" y="1259.06" width="9.8" height="3.3"/>
<text x="1095.25" y="1249.86" class="l">j</text>
<rect x="1113.1" y="1060.45" width="18.2" height="258.15" fill="#d4d4d4"/>
<rect x="1120.5" y="1051.05" width="3.4" height="9.9"/>
<rect x="1117.3" y="1051.05" width="9.8" height="3.3"/>
<text x="1122.2" y="1045.85" class="l">c</text>
<rect x="1140.05" y="1260.89" width="18.2" height="57.71" fill="#626262"/>
<rect x="1147.45" y="1255.65" width="3.4" height="5.74"/>
<rect x="1144.25" y="1255.65" width="9.8" height="3.3"/>
<text x="1149.15" y="1246.45" class="l">j</text>
<rect x="1167" y="1178.07" width="18.2" height="140.53" fill="#a1a0a5"/>
<rect x="1174.4" y="1175.1" width="3.4" height="3.47"/>
<rect x="1171.2" y="1175.1" width="9.8" height="3.3"/>
<text x="1176.1" y="1169.9" class="l">e</text>
<rect x="1211.7" y="1232.53" width="18.2" height="86.07" fill="#000000"/>
<rect x="1219.1" y="1229.18" width="3.4" height="3.85"/>
<rect x="1215.9" y="1229.18" width="9.8" height="3.3"/>
<text x="1220.8" y="1223.98" class="l">h</text>
<rect x="1238.65" y="1187.14" width="18.2" height="131.46" fill="#a1a0a5"/>
<rect x="1246.05" y="1179.64" width="3.4" height="8.01"/>
<rect x="1242.85" y="1179.64" width="9.8" height="3.3"/>
<text x="1247.75" y="1174.44" class="l">ef</text>
<rect x="1265.6" y="1231.77" width="18.2" height="86.83" fill="#7f7f7f"/>
<rect x="1273" y="1227.67" width="3.4" height="4.6"/>
<rect x="1269.8" y="1227.67" width="9.8" height="3.3"/>
<text x="1274.7" y="1222.47" class="l">h</text>
<rect x="1292.55" y="1216.26" width="18.2" height="102.34" fill="#d4d4d4"/>
<rect x="1299.95" y="1212.16" width="3.4" height="4.6"/>
<rect x="1296.75" y="1212.16" width="9.8" height="3.3"/>
<text x="1301.65" y="1202.96" class="l">g</text>
<rect x="1319.5" y="1091.08" width="18.2" height="227.52" fill="#626262"/>
<rect x="1326.9" y="1083.19" width="3.4" height="8.39"/>
<rect x="1323.7" y="1083.19" width="9.8" height="3.3"/>
<text x="1328.6" y="1077.99" class="l">d</text>
<rect x="1346.45" y="1026.79" width="18.2" height="291.81" fill="#a1a0a5"/>
<rect x="1353.85" y="1004.15" width="3.4" height="23.14"/>
<rect x="1350.65" y="1004.15" width="9.8" height="3.3"/>
<text x="1355.55" y="998.95" class="l">b</text>
<rect x="1391.15" y="1269.59" width="18.2" height="49.01" fill="#000000"/>
<rect x="1398.55" y="1263.6" width="3.4" height="6.49"/>
<rect x="1395.35" y="1263.6" width="9.8" height="3.3"/>
<text x="1400.25" y="1254.4" class="l">j</text>
<rect x="1418.1" y="1212.86" width="18.2" height="105.74" fill="#a1a0a5"/>
<rect x="1425.5" y="1209.51" width="3.4" height="3.85"/>
<rect x="1422.3" y="1209.51" width="9.8" height="3.3"/>
<text x="1427.2" y="1200.31" class="l">g</text>
<rect x="1445.05" y="1244.25" width="18.2" height="74.35" fill="#7f7f7f"/>
<rect x="1452.45" y="1241.28" width="3.4" height="3.47"/>
<rect x="1449.25" y="1241.28" width="9.8" height="3.3"/>
<text x="1454.15" y="1236.08" class="l">i</text>
<rect x="1472" y="1235.93" width="18.2" height="82.67" fill="#d4d4d4"/>
<rect x="1479.4" y="1232.2" width="3.4" height="4.23"/>
<rect x="1476.2" y="1232.2" width="9.8" height="3.3"/>
<text x="1481.1" y="1227" class="l">hi</text>
<rect x="1498.95" y="1219.67" width="18.2" height="98.93" fill="#626262"/>
<rect x="1506.35" y="1212.16" width="3.4" height="8.01"/>
<rect x="1503.15" y="1212.16" width="9.8" height="3.3"/>
<text x="1508.05" y="1202.96" class="l">g</text>
<rect x="1525.9" y="987.83" width="18.2" height="330.77" fill="#a1a0a5"/>
<rect x="1533.3" y="982.59" width="3.4" height="5.74"/>
<rect x="1530.1" y="982.59" width="9.8" height="3.3"/>
<text x="1535" y="977.39" class="l">a</text>
<rect x="1008.2" y="1316.9" width="551" height="3.4"/>
<rect x="1017" y="938.7" width="3.4" height="381.6"/>
<rect x="1008.2" y="1316.9" width="10.5" height="3.4"/>
<text x="1004.7" y="1327.5" class="yt">0</text>
<rect x="1008.2" y="1241.26" width="10.5" height="3.4"/>
<text x="1004.7" y="1251.86" class="yt">2</text>
<rect x="1008.2" y="1165.62" width="10.5" height="3.4"/>
<text x="1004.7" y="1176.22" class="yt">4</text>
<rect x="1008.2" y="1089.98" width="10.5" height="3.4"/>
<text x="1004.7" y="1100.58" class="yt">6</text>
<rect x="1008.2" y="1014.34" width="10.5" height="3.4"/>
<text x="1004.7" y="1024.94" class="yt">8</text>
<rect x="1008.2" y="938.7" width="10.5" height="3.4"/>
<text x="1004.7" y="949.3" class="yt">10</text>
<rect x="1106.8" y="1318.6" width="3.4" height="11"/>
<text x="1108.5" y="1357.6" class="xt">9d</text>
<rect x="1286.25" y="1318.6" width="3.4" height="11"/>
<text x="1287.95" y="1357.6" class="xt">11d</text>
<rect x="1465.7" y="1318.6" width="3.4" height="11"/>
<text x="1467.4" y="1357.6" class="xt">13d</text>
<text x="1027.6" y="965" class="pl">F</text>
<text x="1233.5" y="962.2" class="ti">DlCuAOB</text>
<text transform="translate(963 1129.5) rotate(-90)" class="yl">Relative expression</text>
<rect x="1572.3" y="956.8" width="38.5" height="13.2" fill="#000000"/>
<text x="1633.2" y="972.7" class="lg">CK</text>
<rect x="1572.3" y="1003" width="38.5" height="13.2" fill="#a1a0a5"/>
<text x="1633.2" y="1021.7" class="lg">ACC0.01 mmol·L<tspan dx="-0.9" dy="-10.2" class="sp">−1</tspan></text>
<rect x="1572.3" y="1058" width="38.5" height="13.2" fill="#7f7f7f"/>
<text x="1633.2" y="1076.7" class="lg">D-Arg0.01 mmol·L<tspan dx="2.8" dy="-10.2" class="sp">−1</tspan></text>
<rect x="1572.3" y="1112.8" width="38.5" height="13.2" fill="#d4d4d4"/>
<text x="1633.2" y="1131.5" class="lg">Put0.01 mmol·L<tspan dx="2.8" dy="-10.2" class="sp">−1</tspan></text>
<rect x="1572.3" y="1168" width="38.5" height="13.2" fill="#626262"/>
<text x="1633.2" y="1186.7" class="lg">Spd0.01 mmol·L<tspan dx="2.8" dy="-10.2" class="sp">−1</tspan></text>
<rect x="1572.3" y="1211.1" width="38.5" height="13.2" fill="#a1a0a5"/>
<text x="1633.2" y="1229.8" class="lg">Spm0.01 mmol·L<tspan dx="2.8" dy="-10.2" class="sp">−1</tspan></text></g>
<g><rect x="110.75" y="1704.23" width="18.2" height="62.37" fill="#000000"/>
<rect x="118.15" y="1699.75" width="3.4" height="4.98"/>
<rect x="114.95" y="1699.75" width="9.8" height="3.3"/>
<text x="119.85" y="1694.55" class="l">hi</text>
<rect x="137.7" y="1628.59" width="18.2" height="138.01" fill="#a1a0a5"/>
<rect x="145.1" y="1615.28" width="3.4" height="13.81"/>
<rect x="141.9" y="1615.28" width="9.8" height="3.3"/>
<text x="146.8" y="1610.08" class="l">c</text>
<rect x="164.65" y="1674.6" width="18.2" height="92" fill="#7f7f7f"/>
<rect x="172.05" y="1669.49" width="3.4" height="5.61"/>
<rect x="168.85" y="1669.49" width="9.8" height="3.3"/>
<text x="173.75" y="1664.29" class="l">ef</text>
<rect x="191.6" y="1517.65" width="18.2" height="248.95" fill="#d4d4d4"/>
<rect x="199" y="1501.19" width="3.4" height="16.96"/>
<rect x="195.8" y="1501.19" width="9.8" height="3.3"/>
<text x="200.7" y="1495.99" class="l">b</text>
<rect x="218.55" y="1715.57" width="18.2" height="51.03" fill="#626262"/>
<rect x="225.95" y="1712.35" width="3.4" height="3.72"/>
<rect x="222.75" y="1712.35" width="9.8" height="3.3"/>
<text x="227.65" y="1703.15" class="l">ij</text>
<rect x="245.5" y="1630.48" width="18.2" height="136.12" fill="#a1a0a5"/>
<rect x="252.9" y="1620.95" width="3.4" height="10.02"/>
<rect x="249.7" y="1620.95" width="9.8" height="3.3"/>
<text x="254.6" y="1615.75" class="l">c</text>
<rect x="290.2" y="1698.55" width="18.2" height="68.05" fill="#000000"/>
<rect x="297.6" y="1695.96" width="3.4" height="3.09"/>
<rect x="294.4" y="1695.96" width="9.8" height="3.3"/>
<text x="299.3" y="1686.76" class="l">ghi</text>
<rect x="317.15" y="1660.1" width="18.2" height="106.5" fill="#a1a0a5"/>
<rect x="324.55" y="1653.1" width="3.4" height="7.5"/>
<rect x="321.35" y="1653.1" width="9.8" height="3.3"/>
<text x="326.25" y="1647.9" class="l">de</text>
<rect x="344.1" y="1703.6" width="18.2" height="63" fill="#7f7f7f"/>
<rect x="351.5" y="1697.85" width="3.4" height="6.24"/>
<rect x="348.3" y="1697.85" width="9.8" height="3.3"/>
<text x="353.2" y="1692.65" class="l">hi</text>
<rect x="371.05" y="1680.27" width="18.2" height="86.33" fill="#d4d4d4"/>
<rect x="378.45" y="1677.68" width="3.4" height="3.09"/>
<rect x="375.25" y="1677.68" width="9.8" height="3.3"/>
<text x="380.15" y="1668.48" class="l">fg</text>
<rect x="398" y="1646.87" width="18.2" height="119.73" fill="#626262"/>
<rect x="405.4" y="1617.17" width="3.4" height="30.2"/>
<rect x="402.2" y="1617.17" width="9.8" height="3.3"/>
<text x="407.1" y="1611.97" class="l">cd</text>
<rect x="424.95" y="1535.3" width="18.2" height="231.3" fill="#a1a0a5"/>
<rect x="432.35" y="1508.12" width="3.4" height="27.67"/>
<rect x="429.15" y="1508.12" width="9.8" height="3.3"/>
<text x="434.05" y="1502.92" class="l">b</text>
<rect x="469.65" y="1726.92" width="18.2" height="39.68" fill="#000000"/>
<rect x="477.05" y="1724.33" width="3.4" height="3.09"/>
<rect x="473.85" y="1724.33" width="9.8" height="3.3"/>
<text x="478.75" y="1715.13" class="l">j</text>
<rect x="496.6" y="1708.01" width="18.2" height="58.59" fill="#a1a0a5"/>
<rect x="504" y="1700.38" width="3.4" height="8.13"/>
<rect x="500.8" y="1700.38" width="9.8" height="3.3"/>
<text x="505.7" y="1691.18" class="l">hij</text>
<rect x="523.55" y="1718.09" width="18.2" height="48.51" fill="#7f7f7f"/>
<rect x="530.95" y="1712.35" width="3.4" height="6.24"/>
<rect x="527.75" y="1712.35" width="9.8" height="3.3"/>
<text x="532.65" y="1703.15" class="l">ij</text>
<rect x="550.5" y="1690.36" width="18.2" height="76.24" fill="#d4d4d4"/>
<rect x="557.9" y="1687.77" width="3.4" height="3.09"/>
<rect x="554.7" y="1687.77" width="9.8" height="3.3"/>
<text x="559.6" y="1678.57" class="l">fgh</text>
<rect x="577.45" y="1688.47" width="18.2" height="78.13" fill="#626262"/>
<rect x="584.85" y="1683.36" width="3.4" height="5.61"/>
<rect x="581.65" y="1683.36" width="9.8" height="3.3"/>
<text x="586.55" y="1674.16" class="l">fgh</text>
<rect x="604.4" y="1476.68" width="18.2" height="289.92" fill="#a1a0a5"/>
<rect x="611.8" y="1451.39" width="3.4" height="25.78"/>
<rect x="608.6" y="1451.39" width="9.8" height="3.3"/>
<text x="613.5" y="1446.19" class="l">a</text>
<rect x="86.7" y="1764.9" width="551" height="3.4"/>
<rect x="95.5" y="1386.7" width="3.4" height="381.6"/>
<rect x="86.7" y="1764.9" width="10.5" height="3.4"/>
<text x="83.2" y="1775.5" class="yt">0</text>
<rect x="86.7" y="1638.83" width="10.5" height="3.4"/>
<text x="83.2" y="1649.43" class="yt">2</text>
<rect x="86.7" y="1512.77" width="10.5" height="3.4"/>
<text x="83.2" y="1523.37" class="yt">4</text>
<rect x="86.7" y="1386.7" width="10.5" height="3.4"/>
<text x="83.2" y="1397.3" class="yt">6</text>
<rect x="185.3" y="1766.6" width="3.4" height="11"/>
<text x="187" y="1805.6" class="xt">9d</text>
<rect x="364.75" y="1766.6" width="3.4" height="11"/>
<text x="366.45" y="1805.6" class="xt">11d</text>
<rect x="544.2" y="1766.6" width="3.4" height="11"/>
<text x="545.9" y="1805.6" class="xt">13d</text>
<text x="106" y="1413.5" class="pl">G</text>
<text x="306" y="1415.5" class="ti">DlPAO4B</text>
<text transform="translate(53.5 1577.5) rotate(-90)" class="yl">Relative expression</text>
<rect x="652.8" y="1405.1" width="38.5" height="13.2" fill="#000000"/>
<text x="713" y="1421" class="lg">CK</text>
<rect x="652.8" y="1451.1" width="38.5" height="13.2" fill="#a1a0a5"/>
<text x="713" y="1469.8" class="lg">ACC0.01 mmol·L<tspan dx="-0.9" dy="-10.2" class="sp">−1</tspan></text>
<rect x="652.8" y="1494.9" width="38.5" height="13.2" fill="#7f7f7f"/>
<text x="713" y="1513.6" class="lg">D-Arg0.01 mmol·L<tspan dx="2.8" dy="-10.2" class="sp">−1</tspan></text>
<rect x="652.8" y="1538.3" width="38.5" height="13.2" fill="#d4d4d4"/>
<text x="713" y="1557" class="lg">Put0.01 mmol·L<tspan dx="2.8" dy="-10.2" class="sp">−1</tspan></text>
<rect x="652.8" y="1581.5" width="38.5" height="13.2" fill="#626262"/>
<text x="713" y="1600.2" class="lg">Spd0.01 mmol·L<tspan dx="2.8" dy="-10.2" class="sp">−1</tspan></text>
<rect x="652.8" y="1625.4" width="38.5" height="13.2" fill="#a1a0a5"/>
<text x="713" y="1644.1" class="lg">Spm0.01 mmol·L<tspan dx="2.8" dy="-10.2" class="sp">−1</tspan></text></g>
</g>
</svg>
</body></html>
